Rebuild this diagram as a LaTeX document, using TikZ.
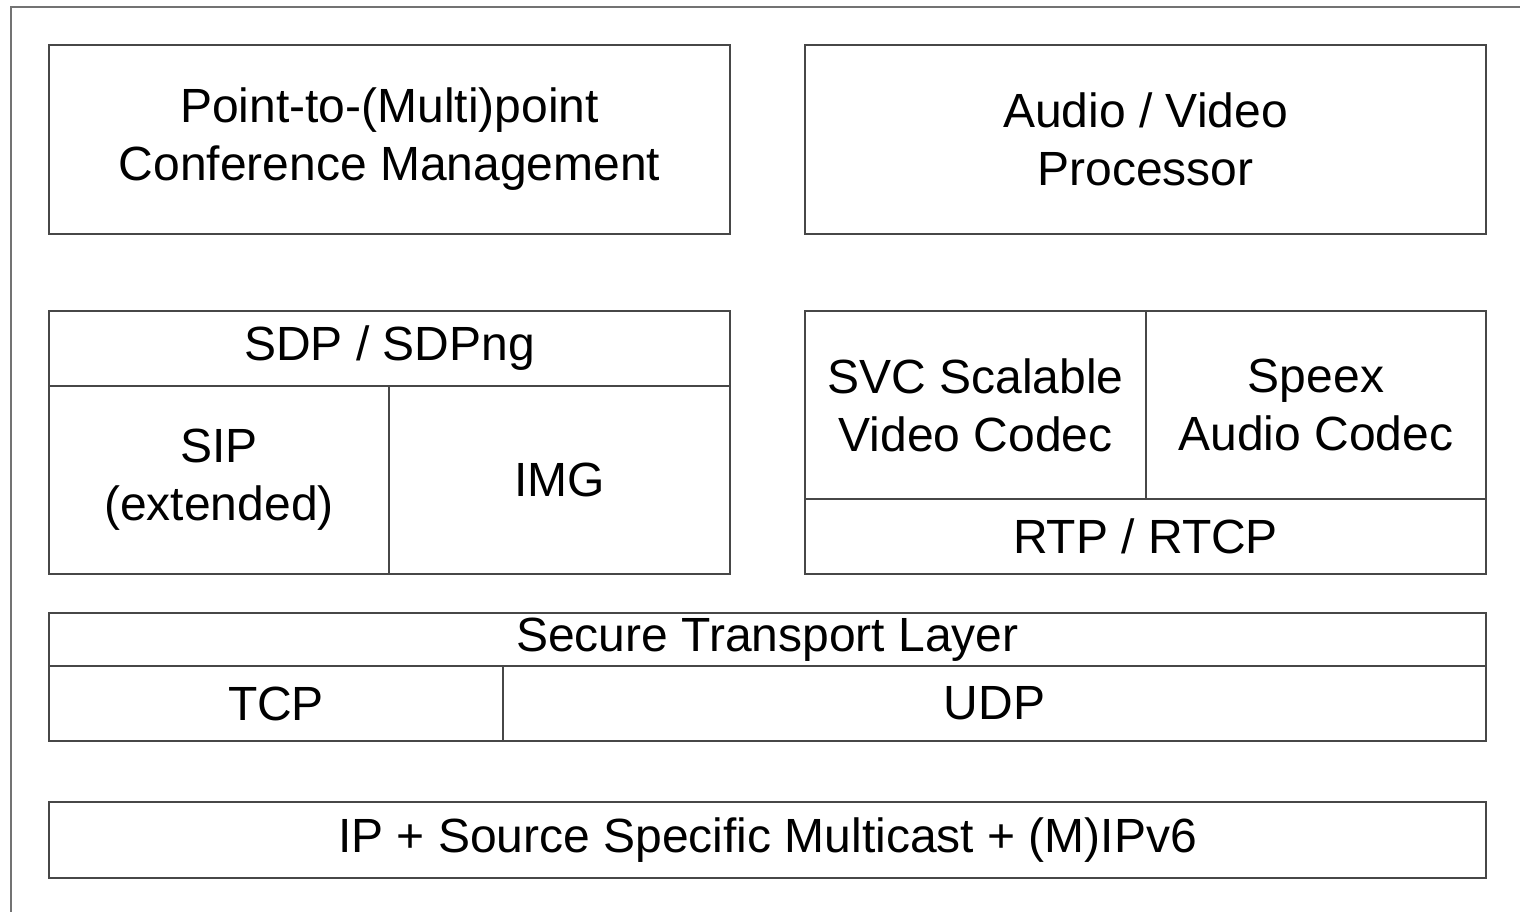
\documentclass[tikz,border=0pt]{standalone}
\usepackage{fontspec}
\setmainfont{Liberation Sans}
\tikzset{
  cell/.style={draw=black!72, line width=2pt, inner sep=0pt, outer sep=0pt,
    anchor=north west, align=center, font=\fontsize{48}{58}\selectfont},
  frameline/.style={draw=black!55, line width=2.2pt}
}
\begin{document}
\begin{tikzpicture}[x=1pt,y=-1pt]
  \useasboundingbox (0,0) rectangle (1520,912);
  % outer frame, running past the right and bottom edges
  \coordinate (fbl) at (11,930);
  \coordinate (ftl) at (11,7);
  \coordinate (ftr) at (1540,7);
  \draw[frameline] (fbl) -- (ftl) -- (ftr);

  % top row
  \node[cell, minimum width=681pt, minimum height=189pt] (conf) at (49,45)
    {Point-to-(Multi)point\\Conference Management};
  \node[cell, minimum width=681pt, minimum height=189pt] (av) at (805,45)
    {Audio / Video\\Processor};

  % signalling stack
  \node[cell, minimum width=681pt, minimum height=75pt] (sdp) at (49,311)
    {SDP / SDPng};
  \node[cell, minimum width=340pt, minimum height=188pt] (sip) at (49,386)
    {SIP\\(extended)};
  \node[cell, minimum width=341pt, minimum height=188pt] (img) at (389,386)
    {IMG};

  % media stack
  \node[cell, minimum width=341pt, minimum height=188pt] (svc) at (805,311)
    {SVC Scalable\\Video Codec};
  \node[cell, minimum width=340pt, minimum height=188pt] (speex) at (1146,311)
    {Speex\\Audio Codec};
  \node[cell, minimum width=681pt, minimum height=75pt] (rtp) at (805,499)
    {RTP / RTCP};

  % transport
  \node[cell, minimum width=1437pt, minimum height=53pt] (stl) at (49,613)
    {Secure Transport Layer};
  \node[cell, minimum width=454pt, minimum height=75pt] (tcp) at (49,666)
    {TCP};
  \node[cell, minimum width=983pt, minimum height=75pt] (udp) at (503,666)
    {UDP};

  % network
  \node[cell, minimum width=1437pt, minimum height=76pt] (ip) at (49,802)
    {IP + Source Specific Multicast + (M)IPv6};
\end{tikzpicture}
\end{document}
